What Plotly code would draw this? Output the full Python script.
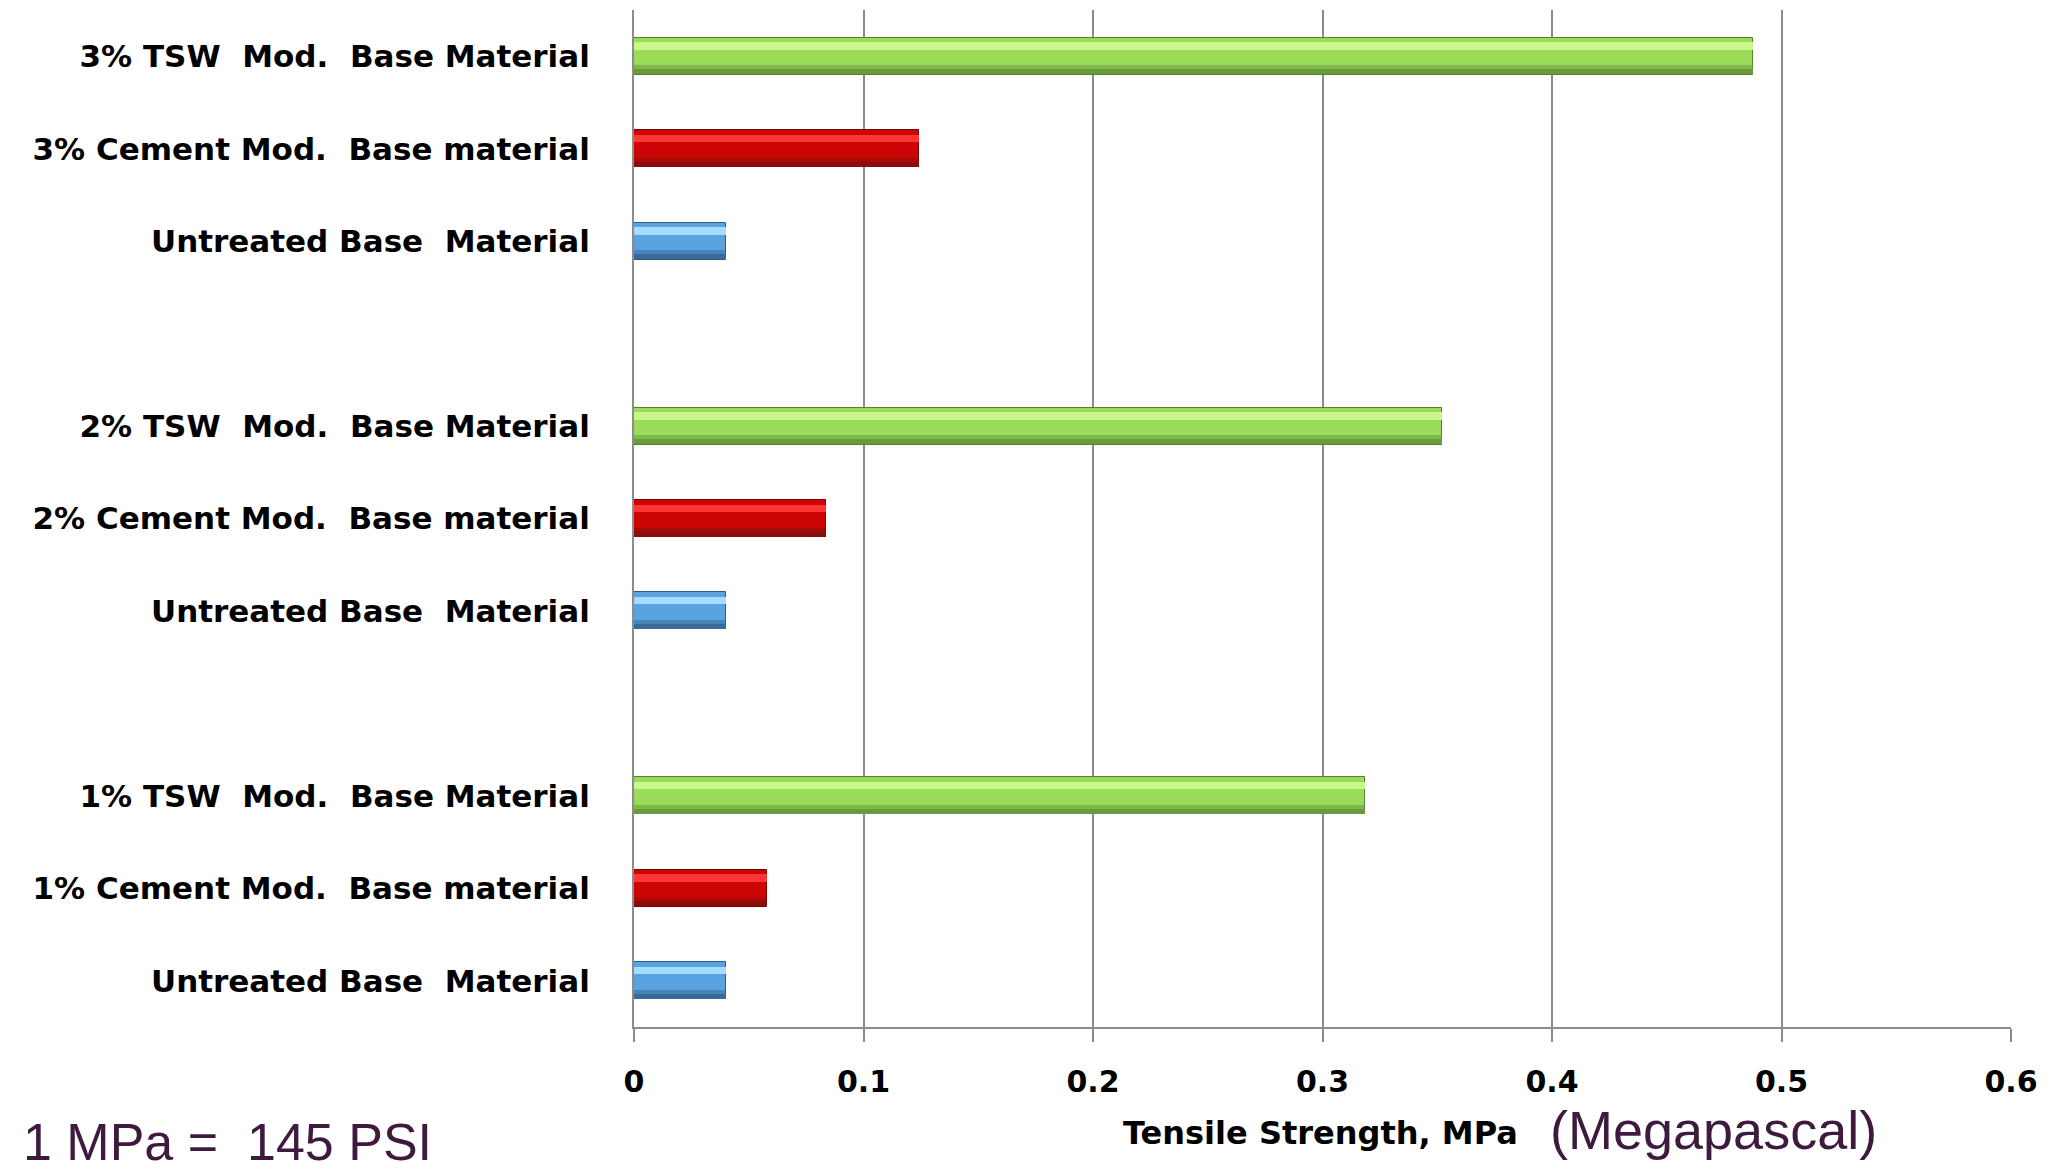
import plotly.graph_objects as go

# ---- data ----
groups = ["1%", "2%", "3%"]
untreated_vals = [0.04, 0.04, 0.04]
cement_vals = [0.058, 0.0835, 0.124]
tsw_vals = [0.3185, 0.352, 0.4875]

untreated_label = "Untreated Base\u00a0\u00a0Material"
cement_label = "{} Cement Mod.\u00a0\u00a0Base material"
tsw_label = "{} TSW\u00a0\u00a0Mod.\u00a0\u00a0Base Material"

x_ticks = [0, 0.1, 0.2, 0.3, 0.4, 0.5, 0.6]
x_tick_text = ["0", "0.1", "0.2", "0.3", "0.4", "0.5", "0.6"]

# ---- slot layout: 3 bars per group, one empty slot between groups ----
slots_per_group = 4
series = [
    ("untreated", untreated_vals, 0),
    ("cement", cement_vals, 1),
    ("tsw", tsw_vals, 2),
]
tickvals, ticktext = [], []
for gi, g in enumerate(groups):
    base = gi * slots_per_group
    tickvals += [base, base + 1, base + 2]
    ticktext += [untreated_label, cement_label.format(g), tsw_label.format(g)]

styles = {
    "untreated": dict(mid="#5BA3E0", light="#A6DCFF", dark="#3A6B98", edge="#2F5A85"),
    "cement": dict(mid="#CC0606", light="#FF3535", dark="#8A0C0C", edge="#7A0000"),
    "tsw": dict(mid="#9ADC5A", light="#C9F78E", dark="#6A9A3E", edge="#55802F"),
}

fig = go.Figure()
W = 0.40
for name, vals, k in series:
    st = styles[name]
    ys = [gi * slots_per_group + k for gi in range(len(groups))]
    # main body
    fig.add_trace(go.Bar(
        x=vals, y=ys, orientation="h", width=W, offset=-W / 2,
        marker=dict(color=st["mid"], line=dict(color=st["edge"], width=1)),
        showlegend=False, hoverinfo="x+y"))
    # top highlight band
    fig.add_trace(go.Bar(
        x=vals, y=ys, orientation="h", width=0.08, offset=0.07,
        marker=dict(color=st["light"], line=dict(width=0)),
        showlegend=False, hoverinfo="skip"))
    # bottom shade bands
    fig.add_trace(go.Bar(
        x=vals, y=ys, orientation="h", width=0.05, offset=-0.15,
        marker=dict(color=st["dark"], line=dict(width=0), opacity=0.55),
        showlegend=False, hoverinfo="skip"))
    fig.add_trace(go.Bar(
        x=vals, y=ys, orientation="h", width=0.055, offset=-W / 2 + 0.005,
        marker=dict(color=st["dark"], line=dict(width=0)),
        showlegend=False, hoverinfo="skip"))

grid_col = "#8C8C8C"
# the page places the figure 8 px from the top-left corner of the window
fig.update_layout(
    width=2049, height=1167,
    margin=dict(l=626, r=46, t=2, b=148),
    paper_bgcolor="white", plot_bgcolor="white",
    barmode="overlay",
    bargap=0,
    xaxis=dict(
        range=[0, 0.6], tickvals=x_ticks, ticktext=x_tick_text,
        showgrid=True, gridcolor=grid_col, gridwidth=2,
        zeroline=False, showline=True, linecolor=grid_col, linewidth=2,
        ticks="outside", ticklen=13, tickwidth=2, tickcolor=grid_col,
        ticklabelstandoff=14,
        tickfont=dict(family="DejaVu Sans", size=30, color="black", weight="bold"),
    ),
    yaxis=dict(
        range=[-0.5, 10.5], tickvals=tickvals, ticktext=ticktext,
        showgrid=False, zeroline=False, showline=True,
        linecolor=grid_col, linewidth=2, ticks="",
        ticklabelstandoff=36,
        tickfont=dict(family="DejaVu Sans", size=31, color="black", weight="bold"),
    ),
    font=dict(family="DejaVu Sans"),
)

purple = "#3E1A3E"
fig.add_annotation(
    text="Tensile Strength, MPa", xref="paper", yref="paper",
    x=0.4985, y=-0.104, xanchor="center", yanchor="middle", showarrow=False,
    font=dict(family="DejaVu Sans", size=32, color="black", weight="bold"))
fig.add_annotation(
    text="(Megapascal)", xref="paper", yref="paper",
    x=0.7837, y=-0.101, xanchor="center", yanchor="middle", showarrow=False,
    font=dict(family="Liberation Sans", size=54, color=purple))
fig.add_annotation(
    text="1 MPa =\u00a0\u00a0145 PSI", xref="paper", yref="paper",
    x=-0.445, y=-0.1135, xanchor="left", yanchor="middle", showarrow=False,
    font=dict(family="Liberation Sans", size=52, color=purple))

# thin frame line at the right edge of the picture
fig.add_shape(type="line", xref="paper", yref="paper",
              x0=1.0305, x1=1.0305, y0=-0.2, y1=1.02,
              line=dict(color=grid_col, width=2))

fig.write_html("out.html")
